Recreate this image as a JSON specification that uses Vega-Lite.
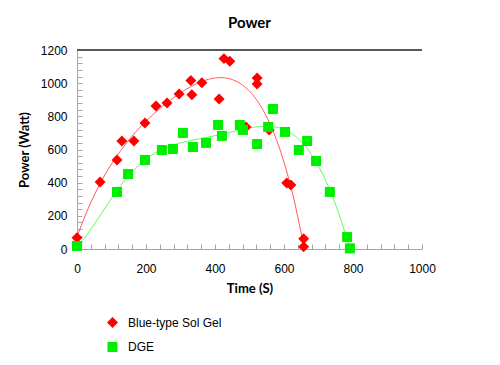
{
  "$schema": "https://vega.github.io/schema/vega-lite/v6.json",
  "width": 345,
  "height": 199,
  "autosize": {"type": "none"},
  "padding": {"left": 77, "top": 50, "right": 78, "bottom": 116},
  "background": "white",
  "title": {"text": "Power", "fontSize": 15, "font": "Lato", "fontWeight": "bold", "color": "#000000", "offset": 13, "anchor": "middle"},
  "config": {
    "view": {"stroke": null},
    "axis": {"grid": false, "domainColor": "#a6a6a6", "tickColor": "#a6a6a6", "labelFont": "Liberation Sans", "labelFontSize": 12, "labelColor": "#000000", "titleFont": "Lato", "titleFontSize": 13, "titleFontWeight": "bold", "titleColor": "#000000", "labelOverlap": false}
  },
  "data": {"values": [
    {"series": "Blue-type Sol Gel", "time": 0, "power": 68},
    {"series": "Blue-type Sol Gel", "time": 67, "power": 404},
    {"series": "Blue-type Sol Gel", "time": 116, "power": 537},
    {"series": "Blue-type Sol Gel", "time": 130, "power": 651},
    {"series": "Blue-type Sol Gel", "time": 165, "power": 651},
    {"series": "Blue-type Sol Gel", "time": 197, "power": 760},
    {"series": "Blue-type Sol Gel", "time": 229, "power": 862},
    {"series": "Blue-type Sol Gel", "time": 261, "power": 880},
    {"series": "Blue-type Sol Gel", "time": 296, "power": 935},
    {"series": "Blue-type Sol Gel", "time": 330, "power": 1016},
    {"series": "Blue-type Sol Gel", "time": 333, "power": 930},
    {"series": "Blue-type Sol Gel", "time": 362, "power": 1003},
    {"series": "Blue-type Sol Gel", "time": 412, "power": 905},
    {"series": "Blue-type Sol Gel", "time": 426, "power": 1148},
    {"series": "Blue-type Sol Gel", "time": 443, "power": 1132},
    {"series": "Blue-type Sol Gel", "time": 490, "power": 736},
    {"series": "Blue-type Sol Gel", "time": 522, "power": 1031},
    {"series": "Blue-type Sol Gel", "time": 522, "power": 995},
    {"series": "Blue-type Sol Gel", "time": 557, "power": 718},
    {"series": "Blue-type Sol Gel", "time": 608, "power": 398},
    {"series": "Blue-type Sol Gel", "time": 620, "power": 386},
    {"series": "Blue-type Sol Gel", "time": 657, "power": 62},
    {"series": "Blue-type Sol Gel", "time": 657, "power": 14},
    {"series": "DGE", "time": 0, "power": 18},
    {"series": "DGE", "time": 116, "power": 344},
    {"series": "DGE", "time": 148, "power": 452},
    {"series": "DGE", "time": 197, "power": 537},
    {"series": "DGE", "time": 246, "power": 597},
    {"series": "DGE", "time": 278, "power": 603},
    {"series": "DGE", "time": 307, "power": 700},
    {"series": "DGE", "time": 336, "power": 615},
    {"series": "DGE", "time": 374, "power": 640},
    {"series": "DGE", "time": 409, "power": 748},
    {"series": "DGE", "time": 420, "power": 682},
    {"series": "DGE", "time": 472, "power": 748},
    {"series": "DGE", "time": 481, "power": 718},
    {"series": "DGE", "time": 522, "power": 633},
    {"series": "DGE", "time": 554, "power": 736},
    {"series": "DGE", "time": 568, "power": 844},
    {"series": "DGE", "time": 603, "power": 706},
    {"series": "DGE", "time": 643, "power": 597},
    {"series": "DGE", "time": 667, "power": 651},
    {"series": "DGE", "time": 693, "power": 531},
    {"series": "DGE", "time": 733, "power": 344},
    {"series": "DGE", "time": 783, "power": 72},
    {"series": "DGE", "time": 791, "power": 4}
  ]},
  "encoding": {
    "x": {
      "field": "time", "type": "quantitative",
      "scale": {"domain": [0, 1000], "nice": false},
      "title": "Time (S)",
      "axis": {"values": [0,40,80,120,160,200,240,280,320,360,400,440,480,520,560,600,640,680,720,760,800,840,880,920,960,1000],
               "labelExpr": "datum.value % 200 == 0 ? format(datum.value, 'd') : ''",
               "labelOverlap": false, "labelFlush": false, "labelBound": false,
               "tickSize": -5, "labelPadding": 19, "titlePadding": 8}
    },
    "y": {
      "field": "power", "type": "quantitative",
      "scale": {"domain": [0, 1200], "nice": false},
      "title": "Power (Watt)",
      "axis": {"values": [0,40,80,120,160,200,240,280,320,360,400,440,480,520,560,600,640,680,720,760,800,840,880,920,960,1000,1040,1080,1120,1160,1200],
               "labelExpr": "datum.value % 200 == 0 ? format(datum.value, 'd') : ''",
               "labelOverlap": false, "labelFlush": false, "labelBound": false,
               "tickSize": -5, "labelPadding": 15, "titlePadding": 9}
    }
  },
  "layer": [
    {
      "mark": {"type": "rule", "color": "#595959", "strokeWidth": 1},
      "encoding": {"x": {"datum": 0}, "x2": {"datum": 1000}, "y": {"datum": 1200}}
    },
    {
      "transform": [
        {"filter": "datum.series === 'Blue-type Sol Gel'"},
        {"regression": "power", "on": "time", "method": "poly", "order": 4}
      ],
      "mark": {"type": "line", "color": "#ff5a5a", "strokeWidth": 1, "clip": true}
    },
    {
      "transform": [
        {"filter": "datum.series === 'DGE'"},
        {"regression": "power", "on": "time", "method": "poly", "order": 6}
      ],
      "mark": {"type": "line", "color": "#5aff5a", "strokeWidth": 1, "clip": true}
    },
    {
      "mark": {"type": "point", "filled": true, "opacity": 1, "strokeWidth": 0},
      "encoding": {
        "color": {
          "field": "series", "type": "nominal",
          "scale": {"domain": ["Blue-type Sol Gel", "DGE"], "range": ["#ff0000", "#00ee00"]},
          "legend": {"orient": "none", "legendX": 29, "legendY": 266, "title": null, "labelFont": "Liberation Sans", "labelFontSize": 12, "labelColor": "#000000", "rowPadding": 12, "symbolSize": 90, "labelOffset": 9}
        },
        "shape": {
          "field": "series", "type": "nominal",
          "scale": {"domain": ["Blue-type Sol Gel", "DGE"], "range": ["diamond", "square"]}
        },
        "size": {
          "field": "series", "type": "nominal",
          "scale": {"domain": ["Blue-type Sol Gel", "DGE"], "range": [120, 100]},
          "legend": null
        }
      }
    }
  ]
}
